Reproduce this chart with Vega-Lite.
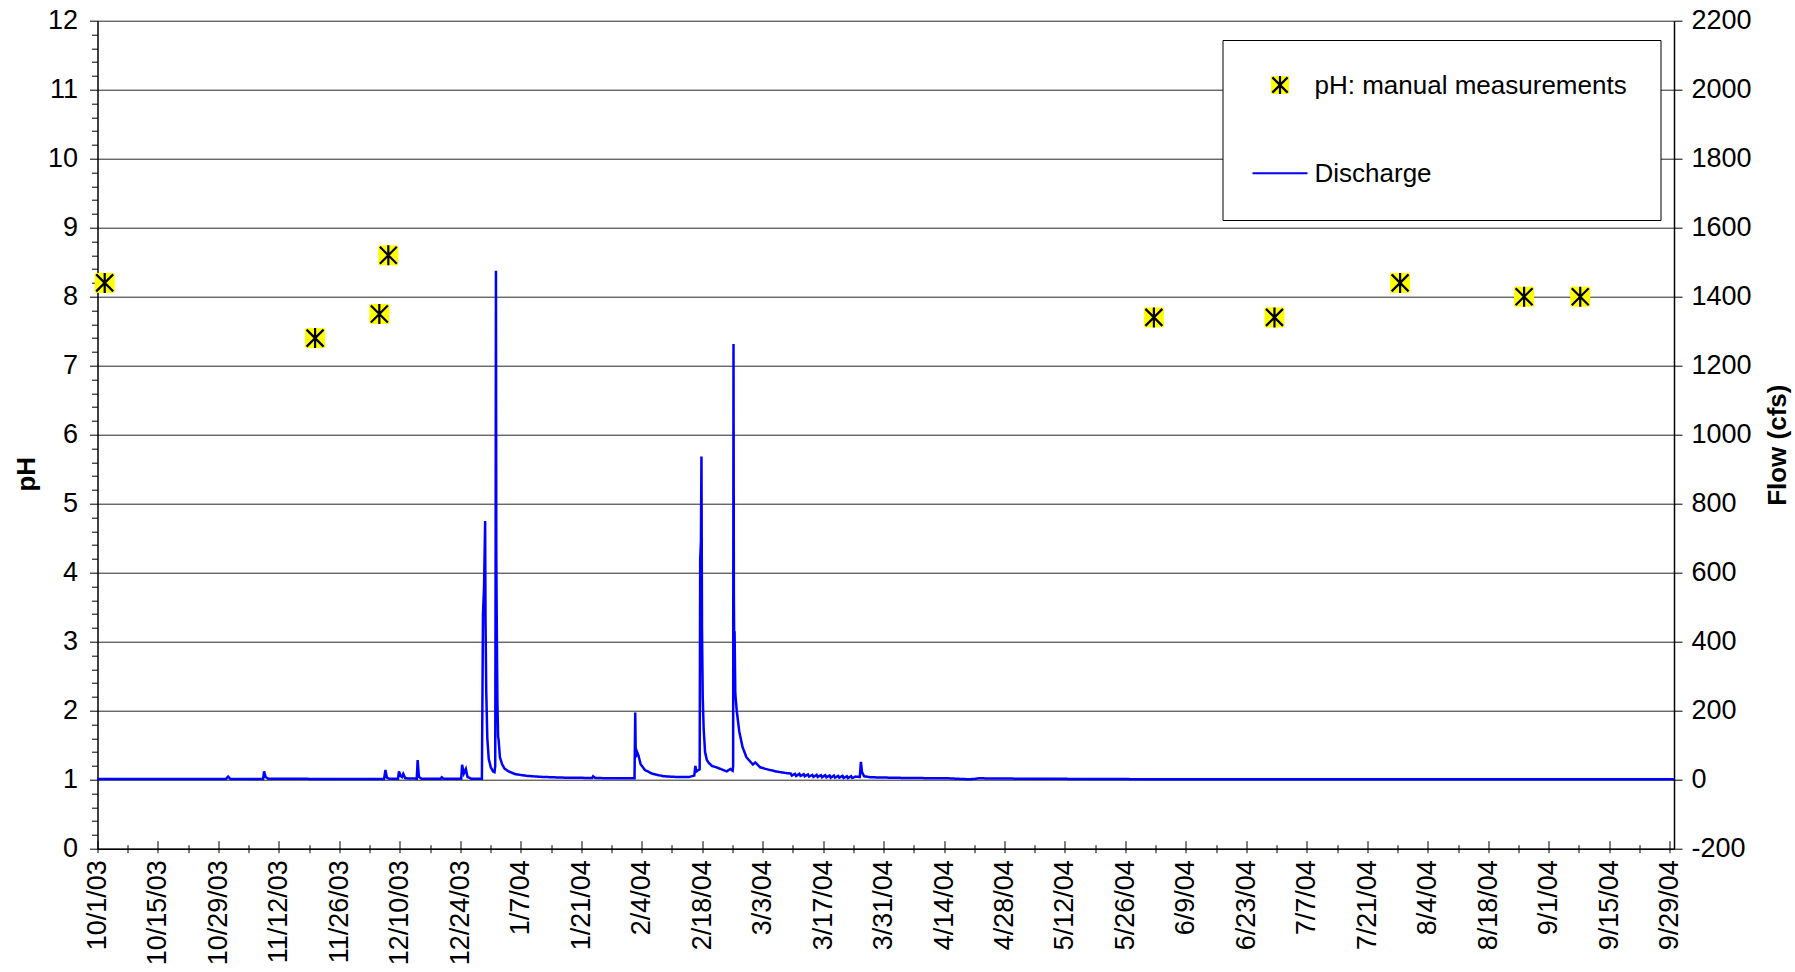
{
  "$schema": "https://vega.github.io/schema/vega-lite/v6.json",
  "width": 1576.5,
  "height": 828,
  "autosize": {"type": "none"},
  "padding": {"left": 97.5, "top": 20.7, "right": 121, "bottom": 123.3},
  "background": "#ffffff",
  "config": {
    "view": {"stroke": null},
    "font": "Liberation Sans",
    "axis": {"labelFont": "Liberation Sans", "titleFont": "Liberation Sans", "labelColor": "#000000", "titleColor": "#000000", "tickColor": "#000000", "domainColor": "#000000"},
    "legend": {"labelFont": "Liberation Sans"}
  },
  "datasets": {
    "ph": [
      {"t": "2003-10-02T16:00", "ph": 8.2},
      {"t": "2003-11-20T09:00", "ph": 7.4},
      {"t": "2003-12-05T06:00", "ph": 7.75},
      {"t": "2003-12-07T08:00", "ph": 8.6},
      {"t": "2004-06-01T14:00", "ph": 7.7},
      {"t": "2004-06-29T12:00", "ph": 7.7},
      {"t": "2004-07-28T14:00", "ph": 8.2},
      {"t": "2004-08-26T07:00", "ph": 8.0},
      {"t": "2004-09-08T07:00", "ph": 8.0}
    ],
    "flow": [
      {"t": "2003-10-01T00:00", "q": 2},
      {"t": "2003-10-20T00:00", "q": 2},
      {"t": "2003-10-30T18:00", "q": 2},
      {"t": "2003-10-31T06:00", "q": 9},
      {"t": "2003-10-31T18:00", "q": 2},
      {"t": "2003-11-08T08:00", "q": 2},
      {"t": "2003-11-08T14:00", "q": 24},
      {"t": "2003-11-08T22:00", "q": 8},
      {"t": "2003-11-09T12:00", "q": 3},
      {"t": "2003-11-25T00:00", "q": 2},
      {"t": "2003-12-06T08:00", "q": 2},
      {"t": "2003-12-06T16:00", "q": 28},
      {"t": "2003-12-07T00:00", "q": 6},
      {"t": "2003-12-07T12:00", "q": 3},
      {"t": "2003-12-09T14:00", "q": 3},
      {"t": "2003-12-09T19:00", "q": 24},
      {"t": "2003-12-10T04:00", "q": 11},
      {"t": "2003-12-10T12:00", "q": 8},
      {"t": "2003-12-10T19:00", "q": 17},
      {"t": "2003-12-11T06:00", "q": 4},
      {"t": "2003-12-13T22:00", "q": 3},
      {"t": "2003-12-14T03:00", "q": 57},
      {"t": "2003-12-14T10:00", "q": 8},
      {"t": "2003-12-15T00:00", "q": 3},
      {"t": "2003-12-19T12:00", "q": 3},
      {"t": "2003-12-19T17:00", "q": 7},
      {"t": "2003-12-20T02:00", "q": 3},
      {"t": "2003-12-24T05:00", "q": 3},
      {"t": "2003-12-24T10:00", "q": 43},
      {"t": "2003-12-24T20:00", "q": 18},
      {"t": "2003-12-25T07:00", "q": 31},
      {"t": "2003-12-25T16:00", "q": 8},
      {"t": "2003-12-26T12:00", "q": 3},
      {"t": "2003-12-29T00:00", "q": 3},
      {"t": "2003-12-29T06:00", "q": 480},
      {"t": "2003-12-29T12:00", "q": 560},
      {"t": "2003-12-29T18:00", "q": 750},
      {"t": "2003-12-29T20:00", "q": 470},
      {"t": "2003-12-30T00:00", "q": 260},
      {"t": "2003-12-30T06:00", "q": 120},
      {"t": "2003-12-30T14:00", "q": 60},
      {"t": "2003-12-31T02:00", "q": 35},
      {"t": "2003-12-31T14:00", "q": 24},
      {"t": "2003-12-31T22:00", "q": 22},
      {"t": "2004-01-01T02:00", "q": 40},
      {"t": "2004-01-01T04:00", "q": 600},
      {"t": "2004-01-01T06:00", "q": 1475},
      {"t": "2004-01-01T08:00", "q": 650},
      {"t": "2004-01-01T11:00", "q": 420},
      {"t": "2004-01-01T14:00", "q": 230},
      {"t": "2004-01-01T18:00", "q": 125},
      {"t": "2004-01-01T21:00", "q": 115},
      {"t": "2004-01-02T04:00", "q": 65},
      {"t": "2004-01-02T16:00", "q": 45},
      {"t": "2004-01-03T06:00", "q": 32},
      {"t": "2004-01-04T04:00", "q": 24},
      {"t": "2004-01-05T18:00", "q": 16},
      {"t": "2004-01-08T12:00", "q": 11},
      {"t": "2004-01-12T00:00", "q": 8},
      {"t": "2004-01-17T00:00", "q": 6},
      {"t": "2004-01-23T12:00", "q": 5},
      {"t": "2004-01-23T18:00", "q": 10},
      {"t": "2004-01-24T06:00", "q": 5},
      {"t": "2004-01-28T00:00", "q": 4},
      {"t": "2004-02-02T08:00", "q": 4},
      {"t": "2004-02-02T12:00", "q": 195},
      {"t": "2004-02-02T15:00", "q": 65},
      {"t": "2004-02-02T21:00", "q": 82},
      {"t": "2004-02-03T06:00", "q": 70},
      {"t": "2004-02-03T18:00", "q": 45},
      {"t": "2004-02-04T18:00", "q": 28},
      {"t": "2004-02-06T12:00", "q": 17},
      {"t": "2004-02-09T00:00", "q": 10},
      {"t": "2004-02-12T00:00", "q": 8},
      {"t": "2004-02-15T00:00", "q": 8},
      {"t": "2004-02-16T04:00", "q": 12},
      {"t": "2004-02-16T10:00", "q": 40},
      {"t": "2004-02-16T16:00", "q": 24},
      {"t": "2004-02-17T04:00", "q": 28},
      {"t": "2004-02-17T10:00", "q": 30},
      {"t": "2004-02-17T13:00", "q": 640},
      {"t": "2004-02-17T17:00", "q": 690},
      {"t": "2004-02-17T20:00", "q": 937},
      {"t": "2004-02-17T23:00", "q": 440},
      {"t": "2004-02-18T03:00", "q": 240},
      {"t": "2004-02-18T08:00", "q": 150},
      {"t": "2004-02-18T16:00", "q": 80},
      {"t": "2004-02-19T02:00", "q": 57},
      {"t": "2004-02-19T14:00", "q": 48},
      {"t": "2004-02-20T06:00", "q": 40},
      {"t": "2004-02-21T06:00", "q": 36},
      {"t": "2004-02-22T12:00", "q": 30},
      {"t": "2004-02-23T16:00", "q": 24},
      {"t": "2004-02-24T12:00", "q": 31},
      {"t": "2004-02-25T01:00", "q": 26},
      {"t": "2004-02-25T04:00", "q": 40},
      {"t": "2004-02-25T06:00", "q": 1263},
      {"t": "2004-02-25T08:00", "q": 540},
      {"t": "2004-02-25T10:00", "q": 380},
      {"t": "2004-02-25T12:00", "q": 430},
      {"t": "2004-02-25T16:00", "q": 250},
      {"t": "2004-02-26T00:00", "q": 200},
      {"t": "2004-02-26T14:00", "q": 140},
      {"t": "2004-02-27T08:00", "q": 95},
      {"t": "2004-02-28T06:00", "q": 65},
      {"t": "2004-02-29T04:00", "q": 52},
      {"t": "2004-02-29T18:00", "q": 44},
      {"t": "2004-03-01T07:00", "q": 50},
      {"t": "2004-03-02T10:00", "q": 36},
      {"t": "2004-03-03T12:00", "q": 32},
      {"t": "2004-03-04T17:00", "q": 28},
      {"t": "2004-03-06T12:00", "q": 23},
      {"t": "2004-03-08T14:00", "q": 19},
      {"t": "2004-03-09T12:00", "q": 18},
      {"t": "2004-03-09T18:00", "q": 12},
      {"t": "2004-03-10T12:00", "q": 17},
      {"t": "2004-03-10T18:00", "q": 11},
      {"t": "2004-03-11T12:00", "q": 17},
      {"t": "2004-03-11T18:00", "q": 11},
      {"t": "2004-03-12T12:00", "q": 16},
      {"t": "2004-03-12T18:00", "q": 10},
      {"t": "2004-03-13T12:00", "q": 15},
      {"t": "2004-03-13T18:00", "q": 9},
      {"t": "2004-03-14T12:00", "q": 14},
      {"t": "2004-03-14T18:00", "q": 8},
      {"t": "2004-03-15T12:00", "q": 14},
      {"t": "2004-03-15T18:00", "q": 8},
      {"t": "2004-03-16T12:00", "q": 13},
      {"t": "2004-03-16T18:00", "q": 7},
      {"t": "2004-03-17T12:00", "q": 13},
      {"t": "2004-03-17T18:00", "q": 7},
      {"t": "2004-03-18T12:00", "q": 12},
      {"t": "2004-03-18T18:00", "q": 6},
      {"t": "2004-03-19T12:00", "q": 12},
      {"t": "2004-03-19T18:00", "q": 6},
      {"t": "2004-03-20T12:00", "q": 11},
      {"t": "2004-03-20T18:00", "q": 6},
      {"t": "2004-03-21T12:00", "q": 11},
      {"t": "2004-03-21T18:00", "q": 5},
      {"t": "2004-03-22T12:00", "q": 10},
      {"t": "2004-03-22T18:00", "q": 5},
      {"t": "2004-03-23T12:00", "q": 10},
      {"t": "2004-03-23T18:00", "q": 5},
      {"t": "2004-03-24T12:00", "q": 9},
      {"t": "2004-03-25T12:00", "q": 8},
      {"t": "2004-03-25T18:00", "q": 52},
      {"t": "2004-03-26T00:00", "q": 22},
      {"t": "2004-03-26T12:00", "q": 10},
      {"t": "2004-03-28T00:00", "q": 7},
      {"t": "2004-04-05T00:00", "q": 5},
      {"t": "2004-04-15T00:00", "q": 4},
      {"t": "2004-04-20T00:00", "q": 1},
      {"t": "2004-04-22T00:00", "q": 4},
      {"t": "2004-05-01T00:00", "q": 3},
      {"t": "2004-05-20T00:00", "q": 2},
      {"t": "2004-06-10T00:00", "q": 1},
      {"t": "2004-07-15T00:00", "q": 1},
      {"t": "2004-09-30T00:00", "q": 1}
    ]
  },
  "layer": [
    {
      "data": {"name": "flow"},
      "mark": {"type": "line", "strokeWidth": 2.5, "opacity": 1},
      "encoding": {
        "x": {
          "field": "t", "type": "temporal",
          "scale": {"domain": [{"year": 2003, "month": 10, "date": 1}, {"year": 2004, "month": 9, "date": 30}]},
          "axis": {"orient": "bottom", "domain": true, "domainWidth": 1.5, "ticks": false, "labels": false, "grid": false, "title": null}
        },
        "y": {
          "field": "q", "type": "quantitative",
          "scale": {"domain": [-200, 2200], "nice": false, "zero": false},
          "axis": {
            "orient": "right",
            "values": [-200, 0, 200, 400, 600, 800, 1000, 1200, 1400, 1600, 1800, 2000, 2200],
            "format": "d", "labelExpr": "replace(datum.label, '−', '-')",
            "grid": false, "domain": true, "domainWidth": 1.5,
            "tickSize": 8, "tickWidth": 1, "labelFontSize": 27, "labelPadding": 9,
            "title": "Flow (cfs)", "titleFontSize": 26, "titleFontWeight": "bold",
            "titleAngle": 270, "titleBaseline": "top", "titlePadding": 13, "titleY": 424
          }
        },
        "stroke": {
          "datum": "Discharge", "type": "nominal",
          "scale": {"domain": ["pH: manual measurements", "Discharge"], "range": ["transparent", "#0000FF"]},
          "legend": {
            "orient": "none", "legendX": 1125, "legendY": 19.3, "title": null,
            "padding": 33, "rowPadding": 62, "labelFontSize": 26, "labelColor": "#000000",
            "labelOffset": 33, "labelLimit": 600, "symbolType": "square", "symbolSize": 324,
            "symbolStrokeWidth": 2, "symbolOpacity": 0, "zindex": 1,
            "fillColor": "#ffffff", "strokeColor": "#000000"
          }
        },
        "strokeDash": {
          "datum": "Discharge line", "type": "nominal",
          "scale": {"domain": ["Discharge line"], "range": [[1, 0]]},
          "legend": {
            "orient": "none", "legendX": 1154, "legendY": 124.1, "title": null,
            "padding": 0, "labelFontSize": 1, "labelExpr": "''", "labelOffset": 0,
            "symbolType": "stroke", "symbolSize": 3025, "symbolStrokeWidth": 2,
            "symbolStrokeColor": "#0000FF", "symbolOpacity": 1, "zindex": 2
          }
        }
      }
    },
    {
      "data": {"name": "ph"},
      "mark": {"type": "point", "shape": "square", "filled": true, "size": 400, "opacity": 1, "strokeWidth": 0},
      "encoding": {
        "x": {
          "field": "t", "type": "temporal",
          "scale": {"domain": [{"year": 2003, "month": 10, "date": 1}, {"year": 2004, "month": 9, "date": 30}]},
          "axis": {
            "orient": "bottom", "offset": -8, "domain": false, "grid": false, "title": null,
            "values": [
              {"year": 2003, "month": 10, "date": 1}, {"year": 2003, "month": 10, "date": 15}, {"year": 2003, "month": 10, "date": 29},
              {"year": 2003, "month": 11, "date": 12}, {"year": 2003, "month": 11, "date": 26}, {"year": 2003, "month": 12, "date": 10},
              {"year": 2003, "month": 12, "date": 24}, {"year": 2004, "month": 1, "date": 7}, {"year": 2004, "month": 1, "date": 21},
              {"year": 2004, "month": 2, "date": 4}, {"year": 2004, "month": 2, "date": 18}, {"year": 2004, "month": 3, "date": 3},
              {"year": 2004, "month": 3, "date": 17}, {"year": 2004, "month": 3, "date": 31}, {"year": 2004, "month": 4, "date": 14},
              {"year": 2004, "month": 4, "date": 28}, {"year": 2004, "month": 5, "date": 12}, {"year": 2004, "month": 5, "date": 26},
              {"year": 2004, "month": 6, "date": 9}, {"year": 2004, "month": 6, "date": 23}, {"year": 2004, "month": 7, "date": 7},
              {"year": 2004, "month": 7, "date": 21}, {"year": 2004, "month": 8, "date": 4}, {"year": 2004, "month": 8, "date": 18},
              {"year": 2004, "month": 9, "date": 1}, {"year": 2004, "month": 9, "date": 15}, {"year": 2004, "month": 9, "date": 29}
            ],
            "format": "%-m/%-d/%y", "labelAngle": 270, "labelFontSize": 27, "labelPadding": 7,
            "labelFlush": false, "labelOverlap": false, "labelBound": false,
            "tickSize": 12, "tickWidth": 1
          }
        },
        "y": {
          "field": "ph", "type": "quantitative",
          "scale": {"domain": [0, 12], "nice": false, "zero": false},
          "axis": {
            "orient": "left", "values": [0, 1, 2, 3, 4, 5, 6, 7, 8, 9, 10, 11, 12], "format": "d",
            "grid": true, "gridColor": "#000000", "gridWidth": 1, "gridOpacity": 0.85,
            "domain": true, "domainWidth": 1.5, "tickSize": 8, "tickWidth": 1,
            "labelFontSize": 27, "labelPadding": 12,
            "title": "pH", "titleFontSize": 26, "titleFontWeight": "bold", "titlePadding": 8, "titleY": 453
          }
        },
        "fill": {
          "datum": "pH square", "type": "nominal",
          "scale": {"domain": ["pH square"], "range": ["#FFFF00"]},
          "legend": {
            "orient": "none", "legendX": 1173.5, "legendY": 55.3, "title": null,
            "padding": 0, "labelFontSize": 1, "labelExpr": "''", "labelOffset": 0,
            "symbolType": "square", "symbolSize": 324, "symbolStrokeWidth": 0,
            "symbolStrokeColor": "transparent", "symbolOpacity": 1, "zindex": 3
          }
        }
      }
    },
    {
      "data": {"name": "ph"},
      "mark": {"type": "point", "shape": "M-0.85,-0.85L0.85,0.85M-0.85,0.85L0.85,-0.85M0,-1L0,1", "filled": false, "size": 400, "strokeWidth": 2.2, "opacity": 1},
      "encoding": {
        "x": {
          "field": "t", "type": "temporal",
          "scale": {"domain": [{"year": 2003, "month": 10, "date": 1}, {"year": 2004, "month": 9, "date": 30}]},
          "axis": {
            "orient": "bottom", "offset": -4, "domain": false, "grid": false, "labels": false, "title": null,
            "tickSize": 8, "tickWidth": 1,
            "values": [
              {"year": 2003, "month": 10, "date": 8}, {"year": 2003, "month": 10, "date": 22}, {"year": 2003, "month": 11, "date": 5},
              {"year": 2003, "month": 11, "date": 19}, {"year": 2003, "month": 12, "date": 3}, {"year": 2003, "month": 12, "date": 17},
              {"year": 2003, "month": 12, "date": 31}, {"year": 2004, "month": 1, "date": 14}, {"year": 2004, "month": 1, "date": 28},
              {"year": 2004, "month": 2, "date": 11}, {"year": 2004, "month": 2, "date": 25}, {"year": 2004, "month": 3, "date": 10},
              {"year": 2004, "month": 3, "date": 24}, {"year": 2004, "month": 4, "date": 7}, {"year": 2004, "month": 4, "date": 21},
              {"year": 2004, "month": 5, "date": 5}, {"year": 2004, "month": 5, "date": 19}, {"year": 2004, "month": 6, "date": 2},
              {"year": 2004, "month": 6, "date": 16}, {"year": 2004, "month": 6, "date": 30}, {"year": 2004, "month": 7, "date": 14},
              {"year": 2004, "month": 7, "date": 28}, {"year": 2004, "month": 8, "date": 11}, {"year": 2004, "month": 8, "date": 25},
              {"year": 2004, "month": 9, "date": 8}, {"year": 2004, "month": 9, "date": 22}
            ]
          }
        },
        "y": {
          "field": "ph", "type": "quantitative",
          "scale": {"domain": [0, 12], "nice": false, "zero": false},
          "axis": {
            "orient": "left", "domain": false, "grid": false, "labels": false, "title": null,
            "tickSize": 6, "tickWidth": 1,
            "values": [0.2, 0.4, 0.6, 0.8, 1.2, 1.4, 1.6, 1.8, 2.2, 2.4, 2.6, 2.8, 3.2, 3.4, 3.6, 3.8, 4.2, 4.4, 4.6, 4.8, 5.2, 5.4, 5.6, 5.8, 6.2, 6.4, 6.6, 6.8, 7.2, 7.4, 7.6, 7.8, 8.2, 8.4, 8.6, 8.8, 9.2, 9.4, 9.6, 9.8, 10.2, 10.4, 10.6, 10.8, 11.2, 11.4, 11.6, 11.8]
          }
        },
        "stroke": {
          "datum": "pH asterisk", "type": "nominal",
          "scale": {"domain": ["pH asterisk"], "range": ["#000000"]},
          "legend": {
            "orient": "none", "legendX": 1172, "legendY": 53.8, "title": null,
            "padding": 0, "labelFontSize": 1, "labelExpr": "''", "labelOffset": 0,
            "symbolType": "M-0.85,-0.85L0.85,0.85M-0.85,0.85L0.85,-0.85M0,-1L0,1", "symbolSize": 324,
            "symbolStrokeWidth": 2.2, "symbolFillColor": "transparent", "symbolOpacity": 1, "zindex": 4
          }
        }
      }
    }
  ],
  "resolve": {
    "scale": {"y": "independent", "stroke": "independent"},
    "axis": {"x": "independent", "y": "independent"}
  }
}
